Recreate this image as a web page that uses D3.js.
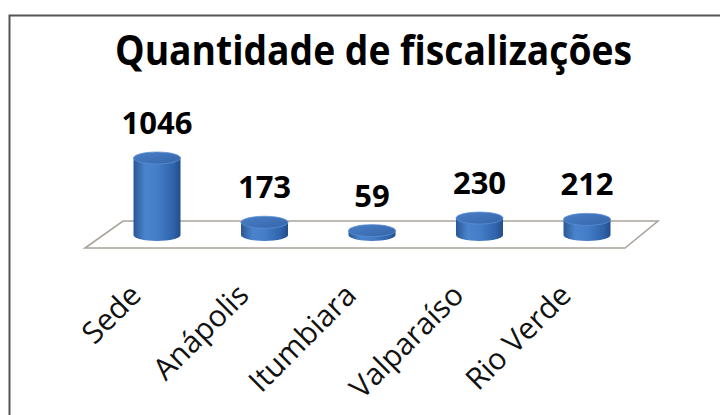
<!DOCTYPE html>
<html>
<head>
<meta charset="utf-8">
<script src="https://cdn.jsdelivr.net/npm/d3@7"></script>
<style>
  body { margin: 0; background: #fff; }
  svg { display: block; }
</style>
</head>
<body>
<svg id="chart"></svg>
<script>
// dados do gráfico
var categorias = ["Sede", "Anápolis", "Itumbiara", "Valparaíso", "Rio Verde"];
var valores = [1046, 173, 59, 230, 212];
var titulo = "Quantidade de fiscalizações";

var w = 720;
var h = 415;

var svg = d3.select("#chart")
   .attr("width", w)
   .attr("height", h);

// moldura
svg.append("path")
   .attr("d", "M9.5,415 L9.5,15.5 L720,15.5")
   .attr("fill", "none")
   .attr("stroke", "#555")
   .attr("stroke-width", 2);

// título
svg.append("text")
   .attr("x", 115)
   .attr("y", 65)
   .attr("textLength", 517)
   .attr("lengthAdjust", "spacingAndGlyphs")
   .style("font-family", "'Open Sans', sans-serif")
   .style("font-weight", "bold")
   .style("font-size", "42px")
   .style("fill", "#000")
   .text(titulo);

// escalas
var x = d3.scaleBand()
   .domain(categorias)
   .range([103.25, 640.75])
   .padding(0);

var y = d3.scaleLinear()
   .domain([0, d3.max(valores)])
   .range([235, 158]);

var raio = 23.5;
var ry = 6;

// piso em perspectiva
svg.append("path")
   .attr("d", "M123,221 L658,221 L625,248 L85,248 Z")
   .attr("fill", "#fff")
   .attr("stroke", "#aaa39b")
   .attr("stroke-width", 1.6);

// gradiente dos cilindros
var defs = svg.append("defs");
var grad = defs.append("linearGradient")
   .attr("id", "cyl")
   .attr("x1", "0%").attr("x2", "100%")
   .attr("y1", "0%").attr("y2", "0%");
grad.append("stop").attr("offset", "0%").attr("stop-color", "#2a5797");
grad.append("stop").attr("offset", "25%").attr("stop-color", "#4a84cc");
grad.append("stop").attr("offset", "50%").attr("stop-color", "#457ec8");
grad.append("stop").attr("offset", "85%").attr("stop-color", "#2f63ab");
grad.append("stop").attr("offset", "100%").attr("stop-color", "#234d8a");

var topo = defs.append("linearGradient")
   .attr("id", "topo")
   .attr("x1", "0%").attr("x2", "100%")
   .attr("y1", "0%").attr("y2", "100%");
topo.append("stop").attr("offset", "0%").attr("stop-color", "#4a7fc6");
topo.append("stop").attr("offset", "100%").attr("stop-color", "#3565ab");

var dados = categorias.map((c, i) => ({ cat: c, v: valores[i] }));

var cx = d => x(d.cat) + x.bandwidth() / 2;

var g = svg.selectAll(".cil")
   .data(dados)
   .enter()
   .append("g")
   .attr("class", "cil");

// corpo
g.append("path")
   .attr("d", d => {
      var xc = cx(d), yb = y(0), yt = y(d.v);
      return "M" + (xc - raio) + "," + yt +
         " L" + (xc - raio) + "," + yb +
         " A" + raio + "," + ry + " 0 0 0 " + (xc + raio) + "," + yb +
         " L" + (xc + raio) + "," + yt + " Z";
   })
   .attr("fill", "url(#cyl)");

// tampa
g.append("ellipse")
   .attr("cx", cx)
   .attr("cy", d => y(d.v))
   .attr("rx", raio)
   .attr("ry", ry)
   .attr("fill", "url(#topo)")
   .attr("stroke", "#5b8fd3")
   .attr("stroke-width", 0.8);

// rótulos de valor
svg.selectAll(".valor")
   .data(dados)
   .enter()
   .append("text")
   .attr("class", "valor")
   .attr("x", cx)
   .attr("y", d => y(d.v) - 24)
   .attr("text-anchor", "middle")
   .style("font-family", "'Open Sans', sans-serif")
   .style("font-weight", "bold")
   .style("font-size", "31px")
   .style("fill", "#000")
   .text(d => d.v);

// rótulos das categorias
svg.selectAll(".cat")
   .data(dados)
   .enter()
   .append("text")
   .attr("class", "cat")
   .attr("text-anchor", "end")
   .attr("transform", d => "translate(" + (cx(d) - 14) + ",297) rotate(-45)")
   .style("font-family", "'Open Sans', sans-serif")
   .style("font-size", "30px")
   .style("fill", "#111")
   .text(d => d.cat);
</script>
</body>
</html>
